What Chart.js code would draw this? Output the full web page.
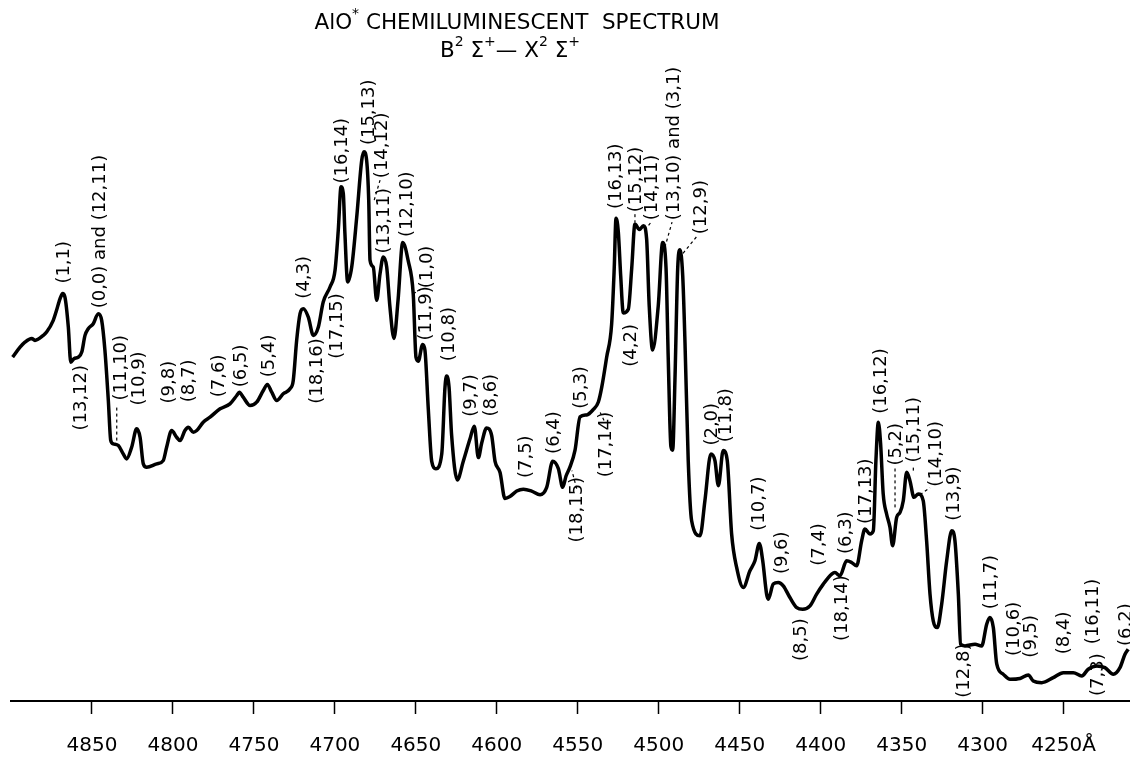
<!DOCTYPE html>
<html>
<head>
<meta charset="utf-8">
<script src="https://cdn.jsdelivr.net/npm/chart.js@4.4.1/dist/chart.umd.min.js"></script>
<style>
  html, body { margin: 0; padding: 0; background: #fff; }
  canvas { display: block; }
</style>
</head>
<body>
<canvas id="spectrum" width="1130" height="767"></canvas>
<script>
// wavelength in Angstrom, intensity in arbitrary units
const wavelength = [4899.0, 4894.4, 4891.4, 4887.2, 4885.2, 4880.1, 4878.0, 4873.9, 4872.2, 4869.7,
    4868.1, 4866.7, 4864.6, 4863.1, 4861.1, 4858.4, 4856.3, 4854.3, 4852.3, 4849.2,
    4846.1, 4844.0, 4842.0, 4839.9, 4838.4, 4836.8, 4833.7, 4830.7, 4828.6, 4825.5,
    4822.4, 4820.3, 4818.3, 4816.2, 4810.0, 4806.0, 4803.9, 4800.8, 4797.7, 4795.6,
    4792.6, 4790.5, 4787.4, 4785.3, 4781.3, 4777.1, 4770.9, 4764.8, 4760.6, 4759.0,
    4756.6, 4752.4, 4748.3, 4744.2, 4741.7, 4739.0, 4735.9, 4731.9, 4727.7, 4725.7,
    4723.6, 4721.5, 4719.5, 4716.4, 4713.3, 4710.2, 4707.2, 4703.0, 4699.9, 4697.9,
    4696.2, 4694.8, 4693.8, 4692.1, 4689.6, 4686.5, 4683.4, 4682.0, 4680.4, 4679.1,
    4678.3, 4676.3, 4674.2, 4672.1, 4670.1, 4668.0, 4666.0, 4663.5, 4661.0, 4658.1,
    4654.7, 4651.6, 4649.9, 4648.5, 4645.8, 4644.4, 4642.3, 4640.2, 4637.6, 4634.0,
    4632.0, 4631.0, 4629.5, 4627.9, 4624.4, 4620.7, 4616.6, 4613.9, 4611.4, 4609.3,
    4606.3, 4603.2, 4601.1, 4598.0, 4595.0, 4591.9, 4587.7, 4583.6, 4578.5, 4573.3,
    4569.2, 4565.5, 4562.0, 4559.3, 4557.3, 4554.8, 4551.7, 4548.6, 4544.5, 4540.4,
    4537.3, 4535.2, 4532.2, 4529.1, 4527.5, 4526.4, 4525.0, 4523.5, 4521.9, 4518.8,
    4516.7, 4514.7, 4512.0, 4509.5, 4507.5, 4505.9, 4503.8, 4500.3, 4497.6, 4495.5,
    4494.1, 4492.5, 4491.4, 4490.0, 4488.3, 4486.9, 4485.2, 4483.8, 4481.8, 4479.7,
    4474.5, 4471.5, 4467.8, 4465.3, 4463.2, 4460.2, 4457.7, 4455.0, 4451.9, 4447.8,
    4443.7, 4440.6, 4437.9, 4435.8, 4433.4, 4432.4, 4429.3, 4426.2, 4423.1, 4419.0,
    4414.8, 4411.1, 4406.6, 4402.5, 4398.4, 4393.2, 4391.2, 4388.1, 4384.0, 4380.9,
    4377.8, 4374.7, 4372.7, 4369.6, 4367.5, 4365.9, 4364.4, 4363.0, 4361.4, 4359.3,
    4357.2, 4355.6, 4353.1, 4351.0, 4349.0, 4346.9, 4344.9, 4342.4, 4339.7, 4336.7,
    4334.6, 4332.5, 4330.5, 4328.0, 4325.3, 4322.2, 4319.1, 4317.1, 4315.0, 4313.6,
    4310.9, 4304.7, 4300.6, 4297.5, 4295.5, 4293.4, 4291.3, 4287.3, 4283.1, 4276.9,
    4271.8, 4268.7, 4263.5, 4256.4, 4250.2, 4244.0, 4238.8, 4234.8, 4229.6, 4224.5,
    4219.3, 4215.2, 4212.1, 4210.1];

const intensity = [343.3, 353.3, 358.3, 362, 360, 365, 368.3, 380, 388.3, 401.7,
    406.7, 403.3, 373.3, 338.3, 341.7, 343.3, 348.3, 365, 371.7, 376.7,
    386.7, 380, 350, 300, 260, 256.7, 255, 246.7, 241.7, 253.3,
    271.7, 263.3, 236.7, 233.3, 236.7, 240, 253.3, 270, 263.3, 260,
    270, 273.3, 268.3, 270, 278.3, 283.3, 291.7, 296.7, 305, 308.3,
    303.3, 295, 298.3, 310, 316, 308.3, 300, 306.7, 311.7, 320,
    360, 386.7, 391.7, 383.3, 365, 373.3, 398.3, 413.3, 430, 470,
    513.3, 506.7, 466.7, 418.3, 433.3, 483.3, 540, 548.3, 540, 500,
    440, 433.3, 400, 426.7, 443.3, 433.3, 393.3, 362, 400, 457.8,
    439.3, 406, 343, 339.3, 356, 350.4, 291.1, 239.3, 231.9, 246.7,
    313.3, 324.4, 313.3, 265.2, 220.7, 239.3, 261.5, 274.4, 243, 257.8,
    272.6, 265.2, 239.3, 228.1, 202.2, 204.1, 209.6, 211.5, 209.6, 205.9,
    213.3, 239.3, 231.9, 213.3, 224.4, 233.7, 250.4, 283.7, 285.6, 291.1,
    298.5, 313.3, 343, 376.3, 431.9, 481.9, 468.9, 424.4, 387.4, 391.1,
    431.9, 476.3, 470.7, 474.4, 461.5, 394.8, 350.4, 394.8, 457.8, 431.9,
    339.3, 254.1, 250.4, 320.7, 431.9, 450.4, 424.4, 357.8, 240, 180,
    165, 200, 246.7, 240, 215, 250, 240, 166.7, 133.3, 113.3,
    130, 140, 157.3, 140, 106.7, 101.7, 116.7, 118.3, 115, 103.3,
    93.3, 91.7, 95, 106.7, 116.7, 126.7, 128.3, 125, 140, 138.3,
    135, 160, 171.7, 166.7, 170, 240, 278.3, 256.7, 206.7, 186.7,
    173.3, 155, 183.3, 188.3, 200, 228.3, 220, 203.3, 206.7, 200,
    160, 106.7, 80, 73.3, 96.7, 140, 170, 160, 106.7, 56.7,
    55, 56.7, 55, 76.7, 83.3, 73.3, 37, 26.7, 21.7, 22.5,
    26, 20, 18.3, 23.3, 28.3, 28.3, 25, 31.7, 35, 33.3,
    26.7, 33.3, 46.7, 51.7];

const tickValues = [4850, 4800, 4750, 4700, 4650, 4600, 4550, 4500, 4450, 4400, 4350, 4300, 4250];

// band assignments (v', v''), anchored where each vertical label starts
const bandLabels = ["(1,1)", "(0,0) and (12,11)", "(13,12)", "(11,10)", "(10,9)", "(9,8)", "(8,7)",
    "(7,6)", "(6,5)", "(5,4)", "(4,3)", "(18,16)", "(17,15)", "(16,14)", "(15,13)", "(14,12)",
    "(13,11)", "(12,10)", "(1,0)", "(11,9)", "(10,8)", "(9,7)", "(8,6)", "(7,5)", "(6,4)",
    "(18,15)", "(5,3)", "(17,14)", "(16,13)", "(15,12)", "(14,11)", "(13,10) and (3,1)", "(12,9)",
    "(4,2)", "(2,0)", "(11,8)", "(10,7)", "(9,6)", "(8,5)", "(7,4)", "(18,14)", "(6,3)", "(17,13)",
    "(16,12)", "(5,2)", "(15,11)", "(14,10)", "(13,9)", "(12,8)", "(11,7)", "(10,6)", "(9,5)",
    "(8,4)", "(16,11)", "(7,3)", "(6,2)"];
const bandLabelWave = [4867.7, 4845.5, 4857.4, 4832.7, 4821.4, 4802.9, 4790.5,
    4772.0, 4758.2, 4741.1, 4719.5, 4711.2, 4698.9, 4695.8, 4679.4, 4671.1,
    4670.1, 4655.7, 4643.3, 4644.4, 4630.0, 4616.6, 4604.2, 4582.6, 4565.1,
    4550.7, 4548.6, 4533.2, 4527.0, 4514.7, 4504.4, 4491.0, 4474.5,
    4517.8, 4467.3, 4459.1, 4438.5, 4424.1, 4412.8, 4401.5, 4387.0, 4385.0, 4372.7,
    4363.4, 4354.1, 4342.8, 4329.4, 4318.1, 4311.9, 4295.5, 4281.1, 4270.8,
    4250.2, 4232.5, 4229.4, 4212.1];
const bandLabelLevel = [416.7, 392, 270, 300, 295, 297, 298.3,
    303.3, 313.3, 323.3, 401.7, 296.7, 341.7, 516.7, 555, 522,
    446.7, 463.3, 412, 360, 339.3, 283.7, 284, 222.6, 246.7,
    158.3, 291.7, 223.3, 491.1, 488, 480, 480, 466,
    333.7, 255, 258.3, 170, 126.7, 40, 135, 60, 146.7, 176.7,
    286.7, 235, 238, 214, 180, 3.3, 91.7, 45, 43.3,
    46.7, 56.7, 5, 55];

// dashed leader lines: [wave1, level1, wave2, level2]
const leaderLines = [
    [4834.7, 260, 4834.7, 296],
    [4675.7, 500, 4672.1, 520],
    [4651.6, 406.7, 4646.8, 411],
    [4550.7, 212, 4553.6, 230],
    [4533.8, 280, 4536.7, 290],
    [4514.7, 486, 4514.7, 478],
    [4508.5, 470, 4504.8, 478],
    [4496.2, 453, 4491.8, 478],
    [4485.0, 447, 4476.4, 464],
    [4354.1, 193.3, 4354.1, 232],
    [4342.8, 230, 4342.8, 236],
    [4338.7, 206, 4332.5, 213]
];

const titleLine1 = [["AlO", 0], ["*", 1], [" CHEMILUMINESCENT  SPECTRUM", 0]];
const titleLine2 = [["B", 0], ["2", 1], [" Σ", 0], ["+", 1], ["— X", 0], ["2", 1], [" Σ", 0], ["+", 1]];

const FONT = '"DejaVu Sans", "Liberation Sans", sans-serif';

function drawRich(ctx, parts, cx, baseline, size) {
    const supSize = Math.round(size * 0.65);
    let total = 0;
    parts.forEach(([t, sup]) => {
        ctx.font = (sup ? supSize : size) + 'px ' + FONT;
        total += ctx.measureText(t).width;
    });
    let x = cx - total / 2;
    parts.forEach(([t, sup]) => {
        ctx.font = (sup ? supSize : size) + 'px ' + FONT;
        ctx.fillText(t, x, sup ? baseline - size * 0.5 : baseline);
        x += ctx.measureText(t).width;
    });
}

const annotations = {
    id: 'annotations',
    afterDatasetsDraw(chart) {
        const ctx = chart.ctx;
        const xs = chart.scales.x, ys = chart.scales.y;
        ctx.save();
        ctx.fillStyle = '#000';
        ctx.textBaseline = 'alphabetic';
        ctx.textAlign = 'left';
        drawRich(ctx, titleLine1, 517, 29, 21.5);
        drawRich(ctx, titleLine2, 510, 57, 21.5);

        ctx.font = '18px ' + FONT;
        ctx.textBaseline = 'middle';
        bandLabels.forEach((t, i) => {
            const px = xs.getPixelForValue(bandLabelWave[i]);
            const py = ys.getPixelForValue(bandLabelLevel[i]);
            ctx.save();
            ctx.translate(px, py);
            ctx.rotate(-Math.PI / 2);
            ctx.fillText(t, 0, 1);
            ctx.restore();
        });

        ctx.strokeStyle = '#000';
        ctx.lineWidth = 1.2;
        ctx.setLineDash([3, 3]);
        leaderLines.forEach(l => {
            ctx.beginPath();
            ctx.moveTo(xs.getPixelForValue(l[0]), ys.getPixelForValue(l[1]));
            ctx.lineTo(xs.getPixelForValue(l[2]), ys.getPixelForValue(l[3]));
            ctx.stroke();
        });
        ctx.restore();
    }
};

const points = wavelength.map((w, i) => ({ x: w, y: intensity[i] }));

new Chart(document.getElementById('spectrum').getContext('2d'), {
    type: 'line',
    data: {
        datasets: [{
            data: points,
            borderColor: '#000',
            borderWidth: 3.5,
            pointRadius: 0,
            fill: false,
            cubicInterpolationMode: 'monotone'
        }]
    },
    options: {
        responsive: false,
        animation: false,
        devicePixelRatio: 1,
        layout: { padding: { top: 100, left: 11, right: 0, bottom: -11 } },
        plugins: {
            legend: { display: false },
            tooltip: { enabled: false },
            title: { display: false }
        },
        scales: {
            x: {
                type: 'linear',
                reverse: true,
                min: 4209,
                max: 4900,
                afterBuildTicks: scale => {
                    scale.ticks = tickValues.map(v => ({ value: v }));
                },
                grid: {
                    drawOnChartArea: false,
                    drawTicks: true,
                    tickLength: 13,
                    tickWidth: 1.5,
                    tickColor: '#000'
                },
                border: { display: true, color: '#000', width: 2 },
                ticks: {
                    autoSkip: false,
                    maxRotation: 0,
                    padding: 20,
                    color: '#000',
                    font: { family: FONT, size: 20 },
                    callback: v => v === 4250 ? '4250Å' : String(v)
                }
            },
            y: {
                display: false,
                min: 0,
                max: 600
            }
        }
    },
    plugins: [annotations]
});
</script>
</body>
</html>
